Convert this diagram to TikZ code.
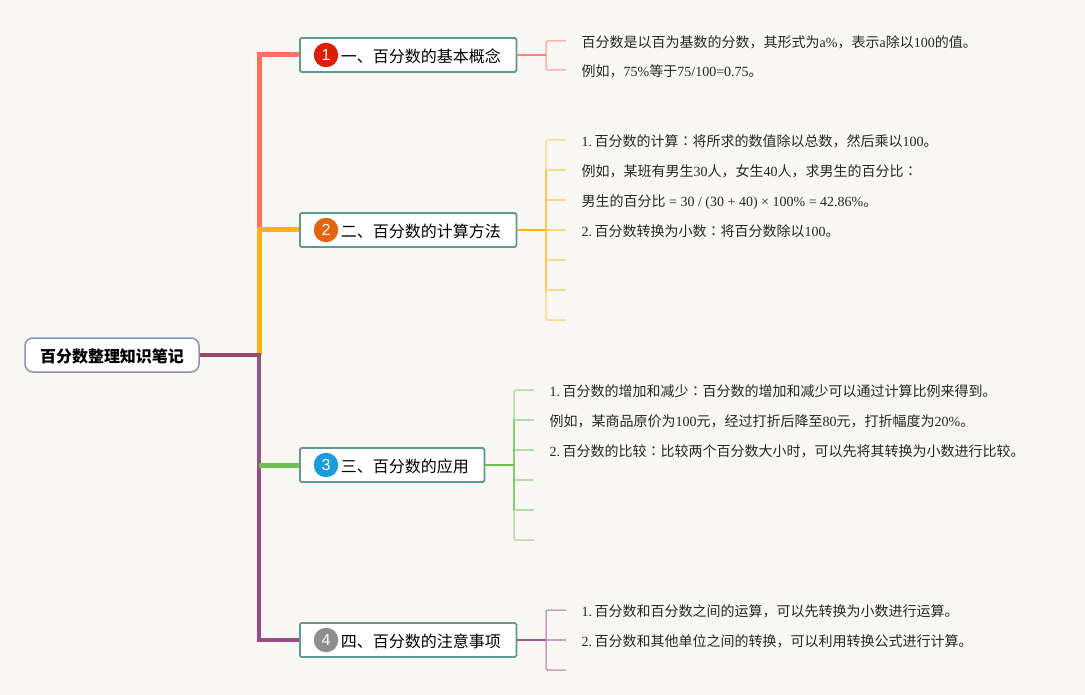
\documentclass[tikz,border=0pt]{standalone}
\usepackage{fontspec}
\setmainfont{Noto Sans CJK SC}
\newfontfamily\latin{Liberation Serif}
\newfontfamily\badgefont{Liberation Sans}
\newfontfamily\jpfont{Noto Sans CJK JP}
\newcommand{\la}[1]{{\latin #1}}
\newcommand{\nm}[1]{{\latin #1.\kern2.5pt}}
\newcommand{\cl}{{\jpfont ：}}
\definecolor{paper}{HTML}{F8F7F4}
\definecolor{rootline}{HTML}{97496E}
\definecolor{rootedge}{HTML}{8C92B4}
\definecolor{edgegreen}{HTML}{5E9A90}
\definecolor{coral}{HTML}{FF6F61}
\definecolor{amber}{HTML}{FFB015}
\definecolor{leafgreen}{HTML}{6CC050}
\definecolor{plum}{HTML}{984A87}
\definecolor{badgeA}{HTML}{DB1F08}
\definecolor{badgeB}{HTML}{E3650F}
\definecolor{badgeC}{HTML}{1A9BE0}
\definecolor{badgeD}{HTML}{8E8E8E}
\tikzstyle{root}=[rectangle,draw=rootedge,line width=1.5pt,rounded corners=8pt,fill=white,text=black,minimum width=174pt,minimum height=34pt,inner sep=0pt,text height=16pt,text depth=1.8pt,font=\fontsize{16}{16}\selectfont\bfseries]
\tikzstyle{topic}=[rectangle,draw=edgegreen,line width=1.8pt,rounded corners=1.5pt,fill=white,text=black,minimum height=34pt,inner xsep=15.5pt,inner ysep=0pt,align=right,text height=16pt,text depth=1.8pt,font=\fontsize{16}{16}\selectfont]
\tikzstyle{badge}=[circle,minimum size=24.5pt,inner sep=0pt,text=white,font=\fontsize{16}{16}\badgefont]
\tikzstyle{leaf}=[anchor=west,inner xsep=15.5pt,inner ysep=0pt,text=black!85,text height=15pt,text depth=2pt,font=\fontsize{14}{14}\selectfont]
\tikzstyle{trunk}=[line width=5pt,line cap=butt,line join=miter]
\tikzstyle{fork}=[line width=1.5pt,rounded corners=1.5pt]

\begin{document}
\begin{tikzpicture}[x=1pt,y=-1pt]

  \fill[paper] (0,0) rectangle (1085,695);
  \useasboundingbox (0,0) rectangle (1085,695);

  \coordinate (J0) at (261,355);
  \coordinate (J1) at (259,55);
  \coordinate (J2) at (259,230);
  \coordinate (J3) at (259,465);
  \coordinate (J4) at (259,640);
  \coordinate (J5) at (259,355);

  % trunk first, boxes on top
  \draw[trunk,line width=4pt,plum!75!gray] (J5)--(J3);
  \draw[trunk,line width=4pt,plum] (J3)--(J4)--(299,640);
  \draw[trunk,coral] (J2)--(J1)--(299,55);
  \draw[trunk,amber] (J5)--(J2)--(299,230);
  \draw[trunk,leafgreen] (J3)--(299,465);

  \node[root] (R) at (112,355) {百分数整理知识笔记};
  \draw[trunk,line width=4pt,rootline] (R)--(J0);

  \node[topic,text width=185.5pt,anchor=west] (T1) at (299,55) {一、百分数的基本概念};
  \node[topic,text width=185.5pt,anchor=west] (T2) at (299,230) {二、百分数的计算方法};
  \node[topic,text width=153.5pt,anchor=west] (T3) at (299,465) {三、百分数的应用};
  \node[topic,text width=185.5pt,anchor=west] (T4) at (299,640) {四、百分数的注意事项};

  \node[badge,fill=badgeA] (B1) at (326,55) {1};
  \node[badge,fill=badgeB] (B2) at (326,230) {2};
  \node[badge,fill=badgeC] (B3) at (326,465) {3};
  \node[badge,fill=badgeD] (B4) at (326,640) {4};

  % first branch
  \node[leaf] (L11) at (566,41) {百分数是以百为基数的分数，其形式为\la{a\%}，表示\la{a}除以\la{100}的值。};
  \node[leaf] (L12) at (566,70) {例如，\la{75\%}等于\la{75/100=0.75}。};
  \coordinate (F11) at (546,41); \coordinate (F12) at (546,70); \coordinate (F10) at (546,55);
  \draw[fork,coral!50!paper] (L11.west)--(F11)--(F12)--(L12.west);
  \draw[fork,coral!85!paper] (T1.east)--(F10);

  % second branch
  \node[leaf] (L21) at (566,140) {\nm{1}百分数的计算\cl 将所求的数值除以总数，然后乘以\la{100}。};
  \node[leaf] (L22) at (566,170) {例如，某班有男生\la{30}人，女生\la{40}人，求男生的百分比\cl};
  \node[leaf] (L23) at (566,200) {男生的百分比\la{ = 30 / (30 + 40) × 100\% = 42.86\%}。};
  \node[leaf] (L24) at (566,230) {\nm{2}百分数转换为小数\cl 将百分数除以\la{100}。};
  \coordinate (L25) at (566,260); \coordinate (L26) at (566,290); \coordinate (L27) at (566,320);
  \coordinate (F21) at (546,140); \coordinate (F22) at (546,170); \coordinate (F23) at (546,200);
  \coordinate (F24) at (546,230); \coordinate (F25) at (546,260); \coordinate (F26) at (546,290); \coordinate (F27) at (546,320);
  \draw[fork,amber!45!paper] (L21.west)--(F21)--(F22);
  \draw[fork,amber!45!paper] (F26)--(F27)--(L27);
  \draw[fork,amber!45!paper] (F22)--(L22.west); \draw[fork,amber!45!paper] (F23)--(L23.west); \draw[fork,amber!45!paper] (F24)--(L24.west);
  \draw[fork,amber!45!paper] (F25)--(L25); \draw[fork,amber!45!paper] (F26)--(L26);
  \draw[fork,amber!70!paper] (F22)--(F26);
  \draw[fork,amber] (T2.east)--(F24);

  % third branch
  \node[leaf] (L31) at (534,390) {\nm{1}百分数的增加和减少\cl 百分数的增加和减少可以通过计算比例来得到。};
  \node[leaf] (L32) at (534,420) {例如，某商品原价为\la{100}元，经过打折后降至\la{80}元，打折幅度为\la{20\%}。};
  \node[leaf] (L33) at (534,450) {\nm{2}百分数的比较\cl 比较两个百分数大小时，可以先将其转换为小数进行比较。};
  \coordinate (L34) at (534,480); \coordinate (L35) at (534,510); \coordinate (L36) at (534,540);
  \coordinate (F31) at (514,390); \coordinate (F32) at (514,420); \coordinate (F33) at (514,450);
  \coordinate (F34) at (514,480); \coordinate (F35) at (514,510); \coordinate (F36) at (514,540); \coordinate (F30) at (514,465);
  \draw[fork,leafgreen!50!paper] (L31.west)--(F31)--(F32);
  \draw[fork,leafgreen!50!paper] (F35)--(F36)--(L36);
  \draw[fork,leafgreen!50!paper] (F32)--(L32.west); \draw[fork,leafgreen!50!paper] (F33)--(L33.west);
  \draw[fork,leafgreen!50!paper] (F34)--(L34); \draw[fork,leafgreen!50!paper] (F35)--(L35);
  \draw[fork,leafgreen!80!paper] (F32)--(F35);
  \draw[fork,leafgreen] (T3.east)--(F30);

  % fourth branch
  \node[leaf] (L41) at (566,610) {\nm{1}百分数和百分数之间的运算，可以先转换为小数进行运算。};
  \node[leaf] (L42) at (566,640) {\nm{2}百分数和其他单位之间的转换，可以利用转换公式进行计算。};
  \coordinate (L43) at (566,670);
  \coordinate (F41) at (546,610); \coordinate (F42) at (546,640); \coordinate (F43) at (546,670);
  \draw[fork,plum!50!paper] (L41.west)--(F41)--(F43)--(L43);
  \draw[fork,plum!50!paper] (F42)--(L42.west);
  \draw[fork,plum!90!paper] (T4.east)--(F42);

\end{tikzpicture}
\end{document}
